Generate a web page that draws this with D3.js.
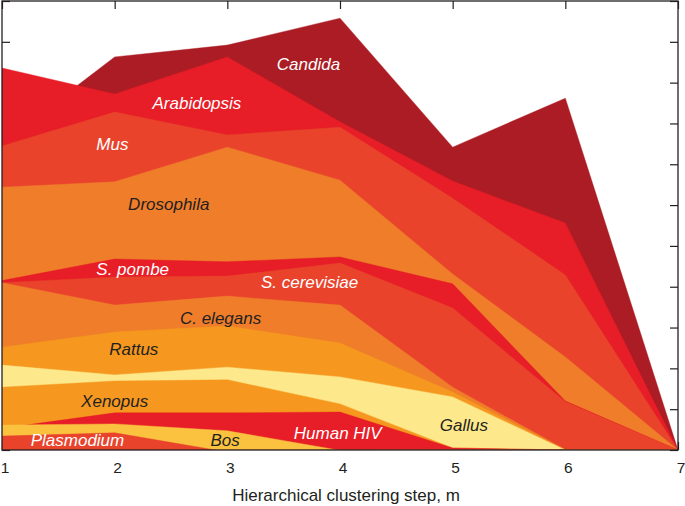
<!DOCTYPE html>
<html>
<head>
<meta charset="utf-8">
<script src="https://cdn.jsdelivr.net/npm/d3@7/dist/d3.min.js"></script>
<style>
  html, body { margin: 0; padding: 0; background: #ffffff; }
  svg { display: block; }
  text { font-family: "Liberation Sans", Arial, Helvetica, sans-serif; }
</style>
</head>
<body>
<svg id="chart" width="685" height="506"></svg>
<script>
// ---- Data (layer thickness per clustering step, stacked bottom -> top) ----
const steps = [1, 2, 3, 4, 5, 6, 7];
const layerNames = ["Plasmodium", "Bos", "Human HIV", "Xenopus", "Gallus", "Rattus",
  "C. elegans", "S. cerevisiae", "S. pombe", "Drosophila", "Mus", "Arabidopsis", "Candida"];
const plasmodium   = [0.34, 0.42, -0.05, 0, 0, 0, 0];
const bos          = [0.27, 0.22, 0.52, -0.01, 0, 0, 0];
const humanHIV     = [-0.08, 0.27, 0.44, 0.94, 0.05, 0, 0];
const xenopus      = [1.01, 0.78, 0.81, 0.20, 0, 0, 0];
const gallus       = [0.54, 0.15, 0.31, 0.66, 1.25, 0, 0];
const rattus       = [0.44, 1.05, 1.01, 0.83, 0.12, 0, 0];
const cElegans     = [1.58, 0.66, 0.73, 0.93, 0.12, 0.01, 0];
const sCerevisiae  = [0, 0.69, 0.49, 1.03, 1.94, 1.17, 0];
const sPombe       = [0.05, 0.44, 0.35, 0.15, 0.59, 0.02, 0];
const drosophila   = [2.29, 1.89, 2.81, 1.88, 0.24, 1.08, 0];
const mus          = [1.01, 1.71, 0.30, 1.30, 1.86, 2.01, 0];
const arabidopsis  = [1.91, 0.44, 1.91, 0.13, 0.42, 1.27, 0];
const candida      = [-1.84, 0.91, 0.29, 2.54, 0.83, 3.06, 0];
const seriesValues = [plasmodium, bos, humanHIV, xenopus, gallus, rattus, cElegans,
  sCerevisiae, sPombe, drosophila, mus, arabidopsis, candida];
const xTickLabels = ["1", "2", "3", "4", "5", "6", "7"];
const yTickValues = [0, 1, 2, 3, 4, 5, 6, 7, 8, 9, 10, 11];
// label anchor points (step, value)
const labelX = [1.67, 2.98, 3.98, 2.00, 5.10, 2.17, 2.94, 3.73, 2.16, 2.48, 1.98, 2.73, 3.72];
const labelY = [0.24, 0.24, 0.42, 1.20, 0.61, 2.48, 3.24, 4.12, 4.44, 6.04, 7.50, 8.50, 9.46];
const xTitle = "Hierarchical clustering step, m";

// ---- Styles ----
const colors = ["#e9432c", "#fac23f", "#e71d27", "#f6981f", "#fde98b", "#f6981f",
  "#ef7d2a", "#e9432c", "#e71d27", "#ef7d2a", "#e9432c", "#e71d27", "#ab1c24"];
const labelColors = ["#ffffff", "#231f20", "#ffffff", "#231f20", "#231f20", "#231f20",
  "#231f20", "#ffffff", "#ffffff", "#231f20", "#ffffff", "#ffffff", "#ffffff"];

(function () {
const svg = d3.select("#chart");
const pL = 2, pR = 678, pT = 1, pB = 450;
const x = d3.scaleLinear().domain([1, 7]).range([pL, pR]);
const y = d3.scaleLinear().domain([0, 11]).range([pB, pT]);

// table for d3.stack
const table = steps.map((s, j) => {
  const row = { step: s };
  layerNames.forEach((n, i) => { row[n] = seriesValues[i][j]; });
  return row;
});
const stacked = d3.stack().keys(layerNames).offset(d3.stackOffsetNone)(table);

// inward ticks (drawn beneath the areas)
const tickLen = 8;
const gTicks = svg.append("g").attr("class", "ticks");
gTicks.append("g").attr("transform", `translate(0,${pT})`)
  .call(d3.axisTop(x).tickValues(steps).tickSize(-tickLen).tickFormat(""));
gTicks.append("g").attr("transform", `translate(0,${pB})`)
  .call(d3.axisBottom(x).tickValues(steps).tickSize(-tickLen).tickFormat(""));
gTicks.append("g").attr("transform", `translate(${pL},0)`)
  .call(d3.axisLeft(y).tickValues(yTickValues).tickSize(-tickLen).tickFormat(""));
gTicks.append("g").attr("transform", `translate(${pR},0)`)
  .call(d3.axisRight(y).tickValues(yTickValues).tickSize(-tickLen).tickFormat(""));
gTicks.selectAll(".domain").remove();
gTicks.selectAll("line").attr("stroke", "#231f20").attr("stroke-width", 1.2);

// clip
svg.append("defs").append("clipPath").attr("id", "plotclip")
  .append("rect").attr("x", pL).attr("y", pT)
  .attr("width", pR - pL).attr("height", pB - pT);

// areas: each layer filled from baseline to its cumulative top, top layer painted first
const area = d3.area()
  .x(d => x(d.data.step))
  .y0(y(0))
  .y1(d => y(d[1]));
const gAreas = svg.append("g").attr("clip-path", "url(#plotclip)");
stacked.slice().reverse().forEach(s => {
  gAreas.append("path")
    .attr("d", area(s))
    .attr("fill", colors[s.index])
    .attr("stroke", colors[s.index])
    .attr("stroke-width", 0.4);
});

// labels
const gLabels = svg.append("g");
layerNames.forEach((n, i) => {
  gLabels.append("text")
    .attr("x", x(labelX[i]))
    .attr("y", y(labelY[i]))
    .attr("dy", "0.36em")
    .attr("text-anchor", "middle")
    .attr("font-style", "italic")
    .attr("font-size", 17)
    .attr("fill", labelColors[i])
    .text(n);
});

// x tick labels
const gX = svg.append("g").attr("transform", `translate(0,${pB})`)
  .call(d3.axisBottom(x).tickValues(steps).tickSize(0).tickPadding(12)
    .tickFormat((d, i) => xTickLabels[i]));
gX.select(".domain").remove();
gX.selectAll("text").attr("font-size", 15.5).attr("fill", "#231f20")
  .attr("dx", 2.5)
  .attr("font-family", "Liberation Sans, Arial, sans-serif");

// axis title
svg.append("text")
  .attr("x", (pL + pR) / 2)
  .attr("dx", 6)
  .attr("y", 501)
  .attr("text-anchor", "middle")
  .attr("font-size", 17)
  .attr("fill", "#231f20")
  .text(xTitle);

// frame on top
svg.append("rect")
  .attr("x", pL).attr("y", pT)
  .attr("width", pR - pL).attr("height", pB - pT)
  .attr("fill", "none").attr("stroke", "#231f20").attr("stroke-width", 1.3);
})();
</script>
</body>
</html>
